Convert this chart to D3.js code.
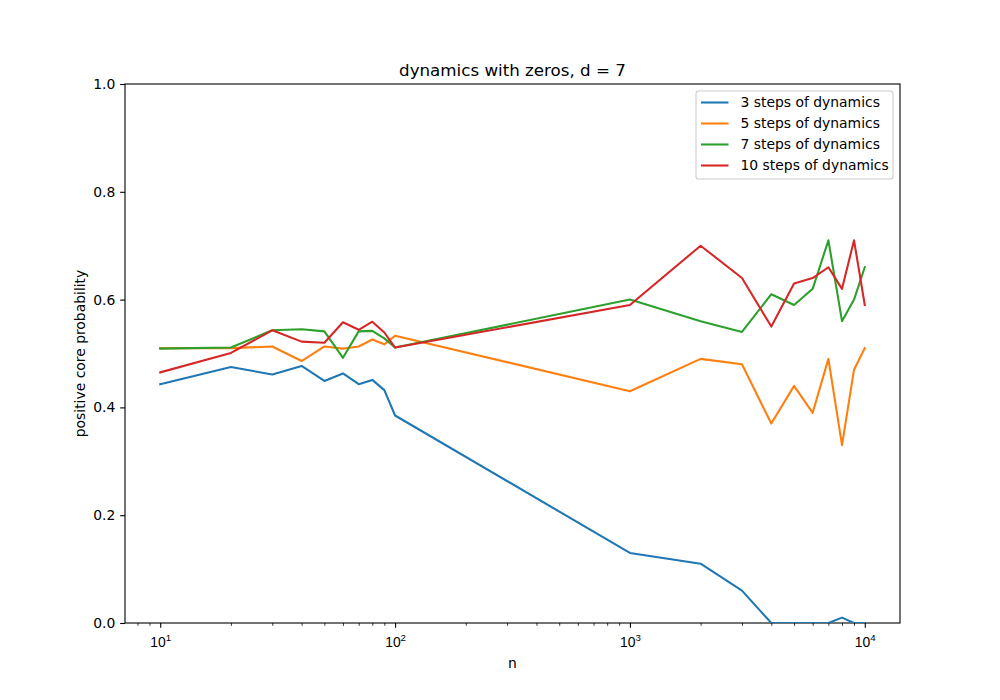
<!DOCTYPE html>
<html>
<head>
<meta charset="utf-8">
<script src="https://cdn.jsdelivr.net/npm/d3@7.9.0/dist/d3.min.js"></script>
<style>
  html, body { margin: 0; padding: 0; background: #fff; }
  svg { display: block; font-family: "DejaVu Sans", sans-serif; }
</style>
</head>
<body>
<div id="chart"></div>
<script>
// values
const nValues = [10, 20, 30, 40, 50, 60, 70, 80, 90, 100,
                 1000, 2000, 3000, 4000, 5000, 6000, 7000, 8000, 9000, 10000];
const steps3 = [0.443, 0.475, 0.461, 0.477, 0.449, 0.463, 0.443, 0.451, 0.432, 0.385,
                0.13, 0.11, 0.06, 0.0, 0.0, 0.0, 0.0, 0.01, 0.0, 0.0];
const steps5 = [0.510, 0.510, 0.513, 0.486, 0.513, 0.509, 0.513, 0.526, 0.517, 0.533,
                0.43, 0.49, 0.48, 0.37, 0.44, 0.39, 0.49, 0.33, 0.47, 0.51];
const steps7 = [0.509, 0.511, 0.543, 0.545, 0.541, 0.492, 0.541, 0.542, 0.528, 0.511,
                0.60, 0.56, 0.54, 0.61, 0.59, 0.62, 0.71, 0.56, 0.60, 0.66];
const steps10 = [0.465, 0.501, 0.543, 0.522, 0.520, 0.558, 0.544, 0.559, 0.539, 0.511,
                 0.59, 0.70, 0.64, 0.55, 0.63, 0.64, 0.66, 0.62, 0.71, 0.59];
const seriesLabels = ['3 steps of dynamics', '5 steps of dynamics',
                      '7 steps of dynamics', '10 steps of dynamics'];
const seriesColors = ['#1f77b4', '#ff7f0e', '#2ca02c', '#d62728'];
const majorTicks = [10, 100, 1000, 10000];
const minorTicks = [8, 9, 20, 30, 40, 50, 60, 70, 80, 90,
                    200, 300, 400, 500, 600, 700, 800, 900,
                    2000, 3000, 4000, 5000, 6000, 7000, 8000, 9000];
const yTicks = [0, 0.2, 0.4, 0.6, 0.8, 1.0];

const series = [steps3, steps5, steps7, steps10].map((vals, i) => ({
  label: seriesLabels[i],
  color: seriesColors[i],
  points: vals.map((v, j) => ({ n: nValues[j], p: v })),
}));

const width = 1000;
const height = 700;
const margin = { top: 84, right: 100, bottom: 77, left: 125 };
const usableArea = {
  top: margin.top,
  right: width - margin.right,
  bottom: height - margin.bottom,
  left: margin.left,
  width: width - margin.left - margin.right,
  height: height - margin.top - margin.bottom,
};

const svg = d3.select('#chart')
  .append('svg')
  .attr('width', width)
  .attr('height', height);

// matplotlib-like 5% margin in log space
const xScale = d3.scaleLog()
  .domain([Math.pow(10, 0.85), Math.pow(10, 4.15)])
  .range([usableArea.left, usableArea.right]);

const yScale = d3.scaleLinear()
  .domain([0, 1])
  .range([usableArea.bottom, usableArea.top]);

svg.append('clipPath')
  .attr('id', 'plot-clip')
  .append('rect')
  .attr('x', usableArea.left)
  .attr('y', usableArea.top)
  .attr('width', usableArea.width)
  .attr('height', usableArea.height);

// minor x ticks
svg.append('g')
  .attr('transform', `translate(0, ${usableArea.bottom})`)
  .call(d3.axisBottom(xScale).tickValues(minorTicks).tickFormat('').tickSize(2.78).tickSizeOuter(0))
  .call((g) => g.select('.domain').remove())
  .call((g) => g.selectAll('line').attr('stroke', '#000').attr('stroke-width', 0.8));

// major x ticks
const xAxisG = svg.append('g')
  .attr('class', 'x-axis')
  .attr('transform', `translate(0, ${usableArea.bottom})`)
  .call(d3.axisBottom(xScale).tickValues(majorTicks).tickFormat('').tickSize(4.86).tickSizeOuter(0).tickPadding(4.86));
xAxisG.select('.domain').remove();
xAxisG.selectAll('line').attr('stroke', '#000').attr('stroke-width', 1.1);
xAxisG.selectAll('.tick text').remove();
xAxisG.selectAll('.tick').append('text')
  .attr('y', 24)
  .attr('fill', '#000')
  .attr('font-size', 13.9)
  .attr('text-anchor', 'middle')
  .each(function (d) {
    const t = d3.select(this);
    t.append('tspan').text('10');
    t.append('tspan')
      .attr('dy', -6)
      .attr('font-size', 9.7)
      .text(String(Math.round(Math.log10(d))));
  });

// y axis
const yAxisG = svg.append('g')
  .attr('transform', `translate(${usableArea.left}, 0)`)
  .call(d3.axisLeft(yScale).tickValues(yTicks).tickFormat(d3.format('.1f')).tickSize(4.86).tickSizeOuter(0).tickPadding(4.86));
yAxisG.select('.domain').remove();
yAxisG.selectAll('line').attr('stroke', '#000').attr('stroke-width', 1.1);
yAxisG.selectAll('text')
  .attr('fill', '#000')
  .attr('font-size', 13.9)
  .attr('font-family', '"DejaVu Sans", sans-serif');

// frame
svg.append('rect')
  .attr('x', usableArea.left)
  .attr('y', usableArea.top)
  .attr('width', usableArea.width)
  .attr('height', usableArea.height)
  .attr('fill', 'none')
  .attr('stroke', '#000')
  .attr('stroke-width', 1.1);

// lines (clipped to the axes, drawn over the frame so zero values stay visible)
const line = d3.line()
  .x((d) => xScale(d.n))
  .y((d) => yScale(d.p));

const plot = svg.append('g')
  .attr('class', 'lines')
  .attr('clip-path', 'url(#plot-clip)');
plot.selectAll('path')
  .data(series)
  .join('path')
  .attr('d', (d) => line(d.points))
  .attr('fill', 'none')
  .attr('stroke', (d) => d.color)
  .attr('stroke-width', 2.08)
  .attr('stroke-linejoin', 'round')
  .attr('stroke-linecap', 'square');

// title and labels
svg.append('text')
  .attr('x', usableArea.left + usableArea.width / 2)
  .attr('y', usableArea.top - 8.3)
  .attr('text-anchor', 'middle')
  .attr('font-size', 16.7)
  .text('dynamics with zeros, d = 7');

svg.append('text')
  .attr('x', usableArea.left + usableArea.width / 2)
  .attr('y', 668)
  .attr('text-anchor', 'middle')
  .attr('font-size', 13.9)
  .text('n');

svg.append('text')
  .attr('transform', `translate(85, ${usableArea.top + usableArea.height / 2}) rotate(-90)`)
  .attr('text-anchor', 'middle')
  .attr('font-size', 13.9)
  .text('positive core probability');

// legend
const legend = svg.append('g').attr('class', 'legend');
legend.append('rect')
  .attr('x', 696)
  .attr('y', 91)
  .attr('width', 197)
  .attr('height', 88)
  .attr('rx', 2.8)
  .attr('fill', '#fff')
  .attr('fill-opacity', 0.8)
  .attr('stroke', '#cccccc')
  .attr('stroke-width', 1.1);

const rows = legend.selectAll('g.row')
  .data(series)
  .join('g')
  .attr('class', 'row')
  .attr('transform', (d, i) => `translate(0, ${102.5 + i * 21})`);

rows.append('line')
  .attr('x1', 701)
  .attr('x2', 728.5)
  .attr('stroke', (d) => d.color)
  .attr('stroke-width', 2.08);

rows.append('text')
  .attr('x', 740.5)
  .attr('dy', '0.35em')
  .attr('font-size', 13.9)
  .text((d) => d.label);
</script>
</body>
</html>
